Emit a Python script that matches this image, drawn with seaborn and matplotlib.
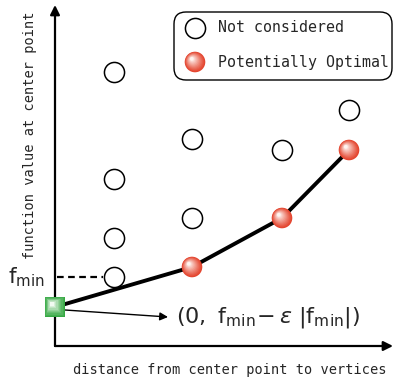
import matplotlib
matplotlib.use('Agg')
import matplotlib.pyplot as plt
import seaborn as sns
import pandas as pd
import numpy as np
from matplotlib.colors import to_rgb
from matplotlib.patches import FancyBboxPatch

# ── Data (distance from origin, function value) ────────────────────────────────
not_dist = [59, 59, 59, 59, 137, 137, 227, 294]
not_val  = [274, 167, 108, 69, 207, 128, 196, 236]
opt_dist = [137, 227, 294]
opt_val  = [79, 128, 196]
hull_dist = [0, 137, 227, 294]
hull_val  = [39, 79, 128, 196]
fmin = 69
low_point = (0, 39)

sns.set_theme(style='white')
plt.rcParams['font.family'] = ['DejaVu Sans Mono', 'DejaVu Sans']
plt.rcParams['mathtext.fontset'] = 'dejavusans'

fig = plt.figure(figsize=(3.95, 3.83), dpi=100)
ax = fig.add_axes([0, 0, 1, 1])
ax.set_xlim(-55, 340)
ax.set_ylim(-37, 346)
ax.axis('off')

# axes arrows
ax.annotate('', xy=(0, 341), xytext=(0, 0),
            arrowprops=dict(arrowstyle='-|>', color='black', lw=1.6,
                            mutation_scale=14, shrinkA=0, shrinkB=0))
ax.annotate('', xy=(338, 0), xytext=(0, 0),
            arrowprops=dict(arrowstyle='-|>', color='black', lw=1.6,
                            mutation_scale=14, shrinkA=0, shrinkB=0))

# fmin dashed line
ax.plot([2, 48], [fmin, fmin], color='black', lw=1.6, ls=(0, (3, 2)), zorder=2)

# lower hull line
sns.lineplot(x=hull_dist, y=hull_val, color='black', lw=2.8, ax=ax,
             sort=False, zorder=3)

# not considered points
sns.scatterplot(x=not_dist, y=not_val, s=210, facecolor='white',
                edgecolor='black', linewidth=1.1, ax=ax, zorder=4)


def shaded(xs, ys, base, light, marker='o', size=220, z=5, steps=12, shift=3.2):
    # fake 3D shading: stacked markers shrinking toward an upper-left highlight
    df = pd.DataFrame({'x': xs, 'y': ys})
    c0, c1 = np.array(to_rgb(base)), np.array(to_rgb(light))
    for k in range(steps):
        t = k / (steps - 1)
        f = (1 - t) ** 1.6 * 0.97 + 0.03
        col = c0 + (c1 - c0) * t ** 1.2
        sns.scatterplot(x=df.x - shift * t, y=df.y + shift * t, s=size * f,
                        color=col, marker=marker, edgecolor='none', ax=ax,
                        zorder=z + k * 0.01)


shaded(opt_dist, opt_val, '#e4452f', '#fff4f0')

# green square (lower bound point)
shaded([low_point[0]], [low_point[1]], '#36a843', '#f2fbf2', marker='s',
       size=215, z=6, steps=10, shift=3.0)

# arrow to annotation
ax.annotate('', xy=(113, 29), xytext=(10, 36),
            arrowprops=dict(arrowstyle='-|>', color='black', lw=1.0,
                            mutation_scale=12, shrinkA=0, shrinkB=0))
ax.text(121, 28, r'$(0,\ \mathsf{f}_{\mathsf{min}}\!-\varepsilon\ |\mathsf{f}_{\mathsf{min}}|)$',
        fontsize=16, va='center', ha='left')

ax.text(-47, fmin, r'$\mathsf{f}_{\mathsf{min}}$', fontsize=15.5, va='center', ha='left')

# axis labels
ax.text(175, -24, 'distance from center point to vertices', fontsize=9.8,
        ha='center', va='center')
ax.text(-25, 211, 'function value at center point', fontsize=9.8,
        ha='center', va='center', rotation=90)

# legend box
box = FancyBboxPatch((119, 266), 218, 68, boxstyle='round,pad=0,rounding_size=12',
                     facecolor='white', edgecolor='black', lw=1.0, zorder=7)
ax.add_patch(box)
sns.scatterplot(x=[140], y=[318], s=210, facecolor='white', edgecolor='black',
                linewidth=1.1, ax=ax, zorder=8)
ax.text(163, 318, 'Not considered', fontsize=10.7, va='center', zorder=9)
shaded([140], [284], '#e4452f', '#fff4f0', z=8)
ax.text(163, 284, 'Potentially Optimal', fontsize=10.7, va='center', zorder=9)

fig.savefig('out.png', dpi=100)
